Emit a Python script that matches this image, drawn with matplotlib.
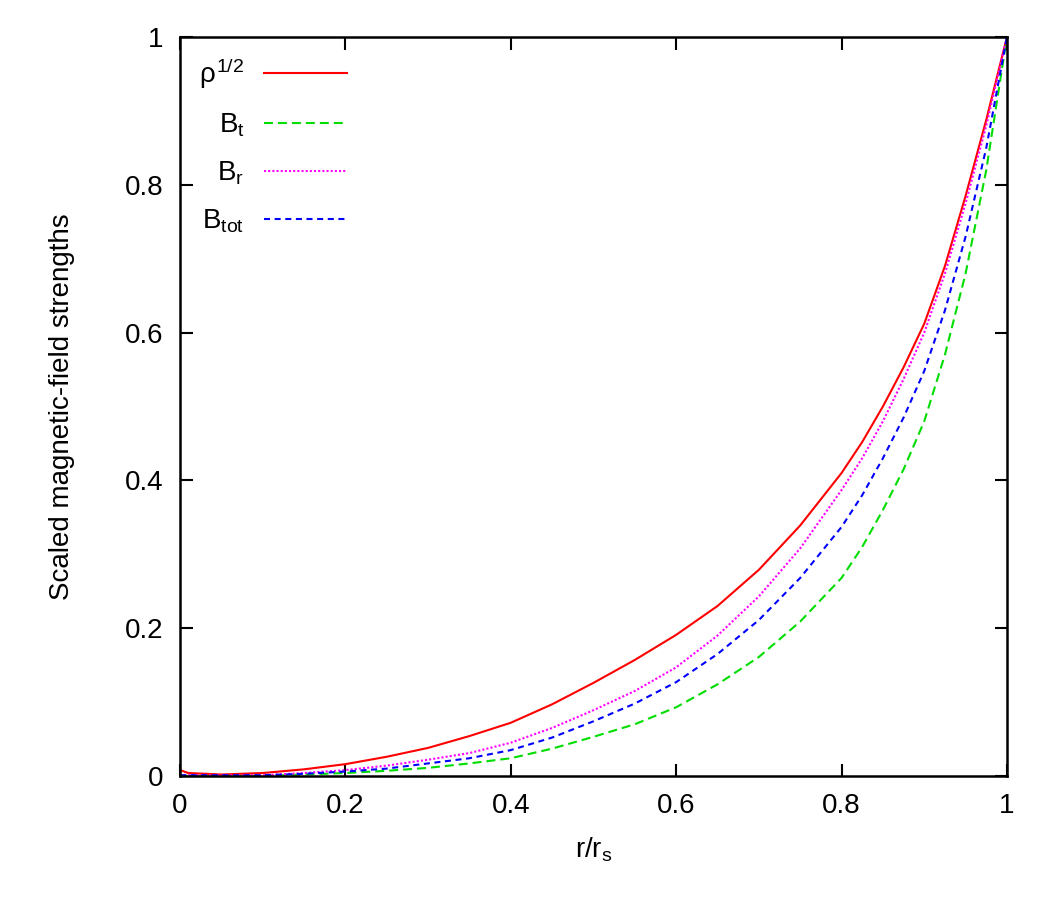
import numpy as np
import matplotlib
matplotlib.use("Agg")
import matplotlib.pyplot as plt

plt.rcParams['font.family'] = ['Liberation Sans', 'DejaVu Sans']
plt.rcParams['mathtext.fontset'] = 'custom'
plt.rcParams['mathtext.rm'] = 'Liberation Sans'
plt.rcParams['mathtext.it'] = 'Liberation Sans'

# radius samples (r/r_s) and values
r = [0.0, 0.01, 0.05, 0.1, 0.15, 0.2, 0.25, 0.3, 0.35, 0.4, 0.45, 0.5, 0.55,
     0.6, 0.65, 0.7, 0.75, 0.8, 0.825, 0.85, 0.875, 0.9, 0.925, 0.95, 0.975, 1.0]

rho_half = [0.008, 0.004, 0.002, 0.004, 0.009, 0.016, 0.026, 0.038, 0.054, 0.072,
            0.097, 0.126, 0.157, 0.191, 0.23, 0.279, 0.339, 0.41, 0.452, 0.50,
            0.553, 0.612, 0.69, 0.785, 0.888, 1.0]
b_t = [0.001, 0.0, 0.0, 0.0, 0.002, 0.004, 0.007, 0.011, 0.017, 0.024, 0.037,
       0.053, 0.07, 0.093, 0.124, 0.161, 0.209, 0.268, 0.31, 0.36, 0.415, 0.48,
       0.57, 0.68, 0.82, 1.0]
b_r = [0.002, 0.001, 0.001, 0.001, 0.004, 0.008, 0.014, 0.022, 0.031, 0.045,
       0.065, 0.089, 0.115, 0.147, 0.19, 0.243, 0.308, 0.387, 0.43, 0.48, 0.537,
       0.60, 0.68, 0.775, 0.88, 1.0]
b_tot = [0.001, 0.001, 0.001, 0.001, 0.003, 0.006, 0.01, 0.017, 0.024, 0.035,
         0.052, 0.074, 0.098, 0.127, 0.165, 0.211, 0.268, 0.337, 0.38, 0.43,
         0.485, 0.548, 0.63, 0.73, 0.85, 1.0]

ticks = [0, 0.2, 0.4, 0.6, 0.8, 1]
tick_labels = ['0', '0.2', '0.4', '0.6', '0.8', '1']

fig = plt.figure(figsize=(10.5, 9), dpi=100)
ax = fig.add_axes([0.1714, 0.1378, 0.7876, 0.8211])  # [left, bottom, width, height]

lw = 1.5
ax.plot(r, rho_half, color='#ff0000', lw=lw, label=r'$\rho^{1/2}$')
ax.plot(r, b_t, color='#00dd00', lw=lw, dashes=(4.3, 2.4), label=r'$\mathrm{B}_\mathrm{t}$')
ax.plot(r, b_r, color='#ff00ff', lw=lw, dashes=(1, 1), label=r'$\mathrm{B}_\mathrm{r}$')
ax.plot(r, b_tot, color='#0000ff', lw=lw, dashes=(2.9, 2.2), label=r'$\mathrm{B}_\mathrm{tot}$')

ax.set_xlim(0, 1)
ax.set_ylim(0, 1)
ax.set_xticks(ticks)
ax.set_xticklabels(tick_labels)
ax.set_yticks(ticks)
ax.set_yticklabels(tick_labels)
ax.tick_params(direction='in', length=9, width=1.5, top=True, right=True,
               labelsize=20, pad=12)
for s in ax.spines.values():
    s.set_linewidth(1.8)

ax.set_xlabel(r'r/r$_\mathrm{s}$', fontsize=20, labelpad=12)
ax.set_ylabel('Scaled magnetic-field strengths', fontsize=20, labelpad=36)

ax.legend(loc='upper left', bbox_to_anchor=(0.0, 1.0), frameon=False,
          markerfirst=False, fontsize=20, handlelength=3.0, handletextpad=0.7,
          labelspacing=0.74, borderaxespad=0.3)

fig.savefig('out.png', dpi=100)
